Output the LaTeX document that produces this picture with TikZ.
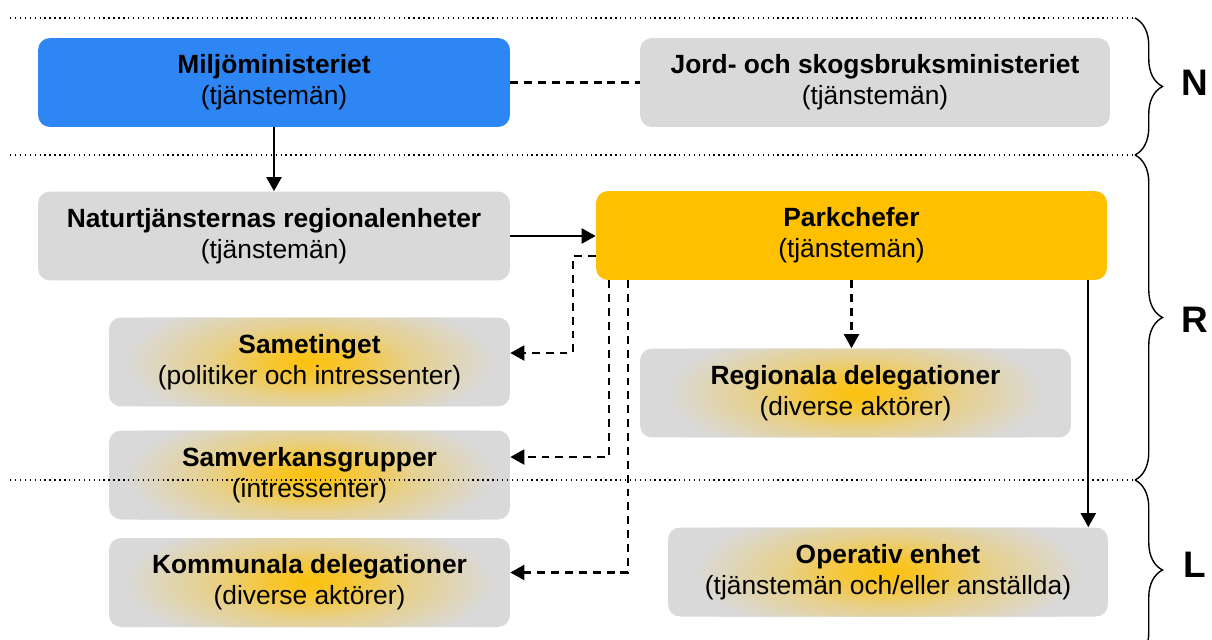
\documentclass[tikz,border=0pt]{standalone}
\usepackage{fontspec}
\setmainfont{Liberation Sans}
\usetikzlibrary{calc,arrows.meta,decorations.pathreplacing}
\definecolor{sblue}{HTML}{2E86F5}
\definecolor{sgold}{HTML}{FFC000}
\definecolor{sgray}{HTML}{D9D9D9}
\pgfdeclareradialshading{glow}{\pgfpoint{0bp}{0bp}}{color(0bp)=(sgold!95!sgray); color(5bp)=(sgold!75!sgray); color(12bp)=(sgold!35!sgray); color(22bp)=(sgray); color(50bp)=(sgray)}

\begin{document}
\begin{tikzpicture}[x=0.02cm, y=-0.02cm,
    BOX/.style={rectangle, rounded corners=0.24cm, inner sep=0pt, minimum height=1.78cm, align=center, fill=sgray, font=\fontsize{15}{17.5}\selectfont},
    GLOW/.style={BOX, path picture={\shade[shading=glow] (path picture bounding box.center) ellipse [x radius=4.2cm, y radius=1.5cm];}},
    LINK/.style={line width=1.2pt, -{Triangle[length=2.8mm, width=3mm]}},
    DLINK/.style={LINK, dash pattern=on 4.5pt off 3.4pt},
    SEP/.style={dotted, line width=0.8pt},
    LEVEL/.style={font=\bfseries\fontsize{21}{25}\selectfont}
    ]
    \useasboundingbox (0,0) rectangle (1212,639);
    % nationell niva
    \node[BOX, fill=sblue, minimum width=9.44cm] (milj) at (274,82.5) {\textbf{Miljöministeriet}\\(tjänstemän)};
    \node[BOX, minimum width=9.4cm] (jord) at (875,82.5) {\textbf{Jord- och skogsbruksministeriet}\\(tjänstemän)};
    % regional niva
    \node[BOX, minimum width=9.44cm] (natur) at (274,236) {\textbf{Naturtjänsternas regionalenheter}\\(tjänstemän)};
    \node[BOX, fill=sgold, minimum width=10.22cm] (park) at (851.5,235.5) {\textbf{Parkchefer}\\(tjänstemän)};
    \node[GLOW, minimum width=8.02cm] (same) at (309.5,362) {\textbf{Sametinget}\\(politiker och intressenter)};
    \node[GLOW, minimum width=8.62cm] (regio) at (855.5,393) {\textbf{Regionala delegationer}\\(diverse aktörer)};
    \node[GLOW, minimum width=8.02cm] (samv) at (309.5,475) {\textbf{Samverkansgrupper}\\(intressenter)};
    % lokal niva
    \node[GLOW, minimum width=8.02cm] (kommu) at (309.5,582.5) {\textbf{Kommunala delegationer}\\(diverse aktörer)};
    \node[GLOW, minimum width=8.8cm] (oper) at (888,572) {\textbf{Operativ enhet}\\(tjänstemän och/eller anställda)};

    % kopplingar
    \draw[LINK] (milj.south) -- (natur.north);
    \draw[line width=1.2pt, dash pattern=on 4.5pt off 3.4pt] (milj.east) -- (jord.west);
    \draw[LINK] (natur.east) -- (natur.east -| park.west);
    \draw[DLINK] ($(park.south west)+(0,-24)$) -- ++(-23,0) |- ($(same.east)+(0,-9)$);
    \draw[DLINK] ($(park.south west)+(13,0)$) |- ($(samv.east)+(0,-18)$);
    \draw[DLINK] ($(park.south west)+(32,0)$) |- ($(kommu.east)+(0,-10)$);
    \draw[DLINK] (park.south) -- (park.south |- regio.north);
    \coordinate (opin) at ($(oper.north east)+(-20,0)$);
    \draw[LINK] (park.south -| opin) -- (opin);

    % nivaer
    \coordinate (t1) at (1135,18);
    \coordinate (t2) at (1135,155);
    \coordinate (t3) at (1135,480);
    \coordinate (t4) at (1135,660);
    \draw[SEP] (10,18) -- (t1);
    \draw[SEP] (10,155) -- (t2);
    \draw[SEP] (10,480) -- (t3);
    \draw[thick, decorate, decoration={brace, amplitude=0.55cm}] (t1) -- (t2);
    \draw[thick, decorate, decoration={brace, amplitude=0.55cm}] (t2) -- (t3);
    \draw[thick, decorate, decoration={brace, amplitude=0.55cm}] (t3) -- (t4);
    \node[LEVEL] (nN) at (1195,83) {N};
    \node[LEVEL] (nR) at (1195,320) {R};
    \node[LEVEL] (nL) at (1195,565) {L};
\end{tikzpicture}
\end{document}
